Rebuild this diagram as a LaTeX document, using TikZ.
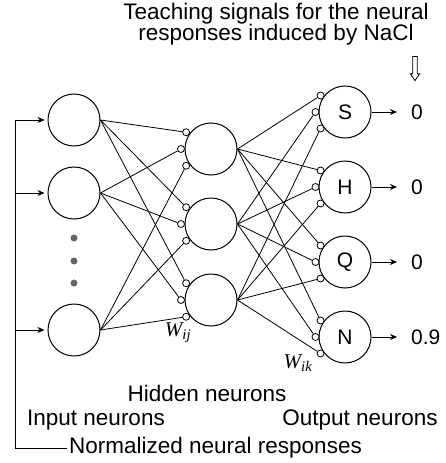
\documentclass[tikz,border=0pt]{standalone}
\usepackage{fontspec}
\setmainfont{Liberation Sans}
\newfontfamily\weightfont{Liberation Serif}
\usetikzlibrary{positioning, shapes.arrows, arrows.meta}

\begin{document}
\begin{tikzpicture}[
            x=1pt, y=-1pt,
            neuron/.style={draw, circle, line width=1pt, minimum size=52pt, inner sep=0pt, font=\fontsize{21}{21}\selectfont},
            synapse/.style={draw, circle, line width=0.8pt, fill=white, minimum size=7pt, inner sep=0pt},
            dotmark/.style={circle, fill=black!60, minimum size=7pt, inner sep=0pt},
            link/.style={line width=0.8pt},
            arrow/.style={-{Stealth[length=7pt, width=6pt]}, line width=0.8pt},
            txt/.style={font=\fontsize{22.5}{21}\selectfont, inner sep=2pt},
            value/.style={font=\fontsize{21}{21}\selectfont, inner sep=0pt, anchor=west},
            weight/.style={font=\weightfont\itshape\fontsize{21}{21}\selectfont, inner sep=0pt}
        ]
            \useasboundingbox (0,0) rectangle (446,463);

            % input layer
            \node[neuron] (in1) at (74,120) {};
            \node[neuron] (in2) at (74,193) {};
            \node[neuron] (in3) at (74,330) {};
            \node[dotmark] (d1) at (74,238) {};
            \node[dotmark] (d2) at (74,261) {};
            \node[dotmark] (d3) at (74,283) {};

            % hidden layer
            \node[neuron] (h1) at (211,149) {};
            \node[neuron] (h2) at (211,224) {};
            \node[neuron] (h3) at (211,300) {};

            % output layer
            \node[neuron] (out1) at (345,112) {S};
            \node[neuron] (out2) at (345,187) {H};
            \node[neuron] (out3) at (345,262) {Q};
            \node[neuron] (out4) at (345,337) {N};

            % synapses
            \foreach \j in {1,2,3}
                \foreach \a [count=\i] in {146,180,214}
                    \node[synapse] (h\j-s\i) at ([shift={(\a:30pt)}]h\j.center) {};
            \foreach \k in {1,...,4}
                \foreach \a [count=\j] in {146,180,214}
                    \node[synapse] (out\k-s\j) at ([shift={(\a:29.5pt)}]out\k.center) {};

            \foreach \i in {1,2,3}
                \foreach \j in {1,2,3}
                    \draw[link] (in\i.east) -- (h\j-s\i);
            \foreach \j in {1,2,3}
                \foreach \k in {1,...,4}
                    \draw[link] (h\j.east) -- (out\k-s\j);

            % teaching signals
            \node[txt, align=center] (teach) at (276,24) {Teaching signals for the neural\\responses induced by NaCl};
            \node[draw, single arrow, shape border rotate=270, line width=0.8pt, inner sep=1.8pt,
                  minimum height=24pt, single arrow head extend=2.5pt, single arrow tip angle=70] (down) at (415,67) {};

            \node[value] (v1) at (411,112) {0};
            \node[value] (v2) at (411,187) {0};
            \node[value] (v3) at (411,262) {0};
            \node[value] (v4) at (411,337) {0.9};
            \foreach \k in {1,...,4}
                \draw[arrow, shorten >=14pt] (out\k.east) -- (v\k.west);

            % weights and layer names
            \node[weight] (wij) at (178,333) {W\textsubscript{ij}};
            \node[weight] (wik) at (298,363) {W\textsubscript{ik}};
            \node[txt] (hidden) at (207,393) {Hidden neurons};
            \node[txt] (input) at (96,420) {Input neurons};
            \node[txt] (output) at (360,420) {Output neurons};

            % normalized responses fed back to the inputs
            \node[txt, anchor=west] (norm) at (67,448) {Normalized neural responses};
            \coordinate (b1) at (15,120);
            \coordinate (b2) at (15,193);
            \coordinate (b3) at (15,330);
            \coordinate (bend) at (15,448);
            \draw[link] (b1) -- (bend) -- (norm.west);
            \foreach \i in {1,2,3}
                \draw[arrow, shorten >=3pt] (b\i) -- (in\i);
        \end{tikzpicture}
\end{document}
